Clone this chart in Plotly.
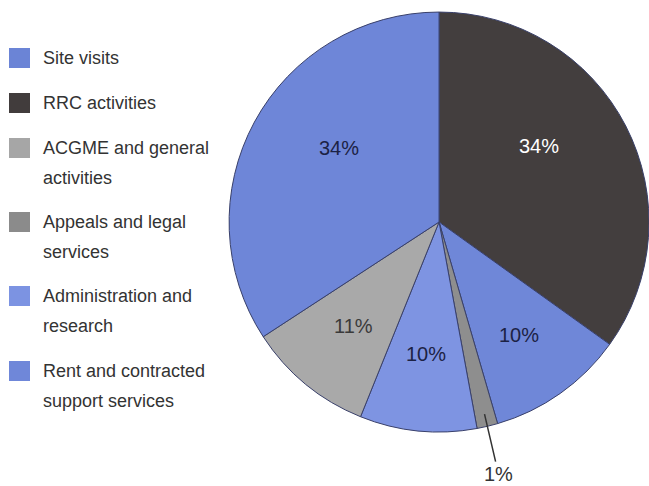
import math
import plotly.graph_objects as go

# Pie slices, clockwise from 12 o'clock (shares)
slice_labels = ["RRC activities", "Rent and contracted support services",
                "Appeals and legal services", "Administration and research",
                "ACGME and general activities", "Site visits"]
slice_values = [34.9, 10.6, 1.6, 9.0, 9.7, 34.2]
slice_text = ["34%", "10%", "1%", "10%", "11%", "34%"]
slice_colors = ["#433e3e", "#6f87d8", "#8e8e8e", "#7e94e2", "#a9a9a9", "#6e86d8"]
slice_text_colors = ["#ffffff", "#1c2244", "#333333", "#1c2244", "#3a3a3a", "#1c2244"]

# Legend, top to bottom
legend_lines = [["Site visits"], ["RRC activities"], ["ACGME and general", "activities"],
                ["Appeals and legal", "services"], ["Administration and", "research"],
                ["Rent and contracted", "support services"]]
legend_colors = ["#6b84d6", "#413c3c", "#a6a6a6", "#8b8b8b", "#7c93e2", "#6f87d9"]

small_index = 2  # thin slice labelled outside with a leader line

W, H = 649, 486
FONT = "Liberation Sans, Arial, sans-serif"
dom_x = [0.353, 1.0]
dom_y = [0.1111, 0.9753]
# label placement: fraction of radius and angular nudge (deg) per slice
label_r = [0.60, 0.66, 0.94, 0.63, 0.64, 0.59]
label_dang = [-10, 0, 0, 0, 0, 8]

fig = go.Figure()
fig.add_trace(go.Pie(
    labels=slice_labels, values=slice_values,
    textinfo="none", sort=False, direction="clockwise", rotation=0,
    marker=dict(colors=slice_colors, line=dict(color="#39406a", width=1)),
    domain=dict(x=dom_x, y=dom_y), showlegend=False, hoverinfo="label+percent",
))

# legend built from squares + text
row_y = [58, 103, 148, 222, 296, 371]
line_gap = 30
for i, (lines, col) in enumerate(zip(legend_lines, legend_colors)):
    cy = row_y[i]
    fig.add_shape(type="rect", xref="paper", yref="paper",
                  x0=9 / W, x1=30 / W, y0=1 - (cy + 10) / H, y1=1 - (cy - 10) / H,
                  fillcolor=col, line=dict(width=0))
    for j, ln in enumerate(lines):
        fig.add_annotation(x=41 / W, y=1 - (cy + j * line_gap) / H, xref="paper", yref="paper",
                           text=ln, showarrow=False, xanchor="left", yanchor="middle",
                           font=dict(family=FONT, size=18, color="#333333"))

# slice labels, positioned from the slice values
cx = (dom_x[0] + dom_x[1]) / 2 * W
cyp = (1 - (dom_y[0] + dom_y[1]) / 2) * H
R = min((dom_x[1] - dom_x[0]) * W, (dom_y[1] - dom_y[0]) * H) / 2
tot = sum(slice_values)
cum = 0.0
for i, v in enumerate(slice_values):
    mid = (cum + v / 2) / tot * 360 + label_dang[i]
    cum += v
    a = math.radians(mid)
    px = cx + label_r[i] * R * math.sin(a)
    py = cyp - label_r[i] * R * math.cos(a)
    if i == small_index:
        fig.add_annotation(x=px / W, y=1 - py / H, xref="paper", yref="paper",
                           text=slice_text[i], showarrow=True, arrowhead=0, arrowwidth=1.5,
                           arrowcolor="#333333", ax=14, ay=60, standoff=0,
                           xanchor="center", yanchor="middle",
                           font=dict(family=FONT, size=20, color="#333333"))
    else:
        fig.add_annotation(x=px / W, y=1 - py / H, xref="paper", yref="paper",
                           text=slice_text[i], showarrow=False,
                           xanchor="center", yanchor="middle",
                           font=dict(family=FONT, size=20, color=slice_text_colors[i]))

fig.update_layout(width=W, height=H, margin=dict(l=0, r=0, t=0, b=0),
                  paper_bgcolor="#ffffff", plot_bgcolor="#ffffff")
fig.write_html("out.html")
